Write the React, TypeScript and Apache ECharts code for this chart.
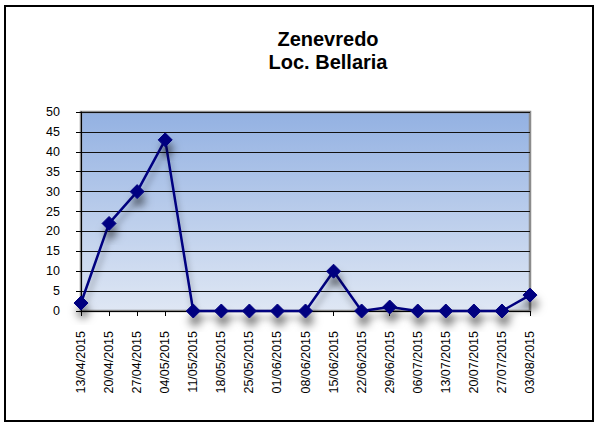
import React, { useEffect, useRef } from "react";
import * as echarts from "echarts";

const titleLines = ["Zenevredo", "Loc. Bellaria"];
const categories = [
  "13/04/2015", "20/04/2015", "27/04/2015", "04/05/2015", "11/05/2015",
  "18/05/2015", "25/05/2015", "01/06/2015", "08/06/2015", "15/06/2015",
  "22/06/2015", "29/06/2015", "06/07/2015", "13/07/2015", "20/07/2015",
  "27/07/2015", "03/08/2015",
];
const values = [2, 22, 30, 43, 0, 0, 0, 0, 0, 10, 0, 1, 0, 0, 0, 0, 4];
const yMin = 0;
const yMax = 50;
const yStep = 5;

export default function App() {
  const ref = useRef<HTMLDivElement>(null);
  useEffect(() => {
    document.body.style.margin = "0";
    const chart = echarts.init(ref.current!, null, { renderer: "svg" });
    const font = "'Liberation Sans', Arial, sans-serif";
    chart.setOption({
      animation: false,
      backgroundColor: "#ffffff",
      graphic: [
        {
          type: "rect",
          shape: { x: 5, y: 6, width: 588, height: 415 },
          style: { fill: "none", stroke: "#000", lineWidth: 2 },
          z: 0,
        },
        {
          type: "text",
          x: 328,
          y: 39,
          style: {
            text: titleLines[0],
            font: `bold 20px ${font}`,
            fill: "#000",
            textAlign: "center",
            textVerticalAlign: "middle",
          },
        },
        {
          type: "text",
          x: 328,
          y: 62,
          style: {
            text: titleLines[1],
            font: `bold 20px ${font}`,
            fill: "#000",
            textAlign: "center",
            textVerticalAlign: "middle",
          },
        },
      ],
      grid: {
        left: 81,
        right: 68,
        top: 112,
        bottom: 115,
        show: true,
        borderColor: "#8c8c8c",
        borderWidth: 2.5,
        backgroundColor: new echarts.graphic.LinearGradient(0, 0, 0, 1, [
          { offset: 0, color: "#93b1e2" },
          { offset: 1, color: "#dfe7f4" },
        ]),
      },
      xAxis: {
        type: "category",
        data: categories,
        boundaryGap: false,
        axisLine: { show: true, lineStyle: { color: "#000", width: 1 } },
        axisTick: { show: true, length: 5, lineStyle: { color: "#000" } },
        axisLabel: {
          rotate: 90,
          margin: 20,
          fontSize: 12.5,
          fontFamily: font,
          color: "#000",
        },
        splitLine: { show: false },
      },
      yAxis: {
        type: "value",
        min: yMin,
        max: yMax,
        interval: yStep,
        axisLine: { show: true, lineStyle: { color: "#000", width: 1 } },
        axisTick: { show: true, length: 5, lineStyle: { color: "#000" } },
        axisLabel: {
          margin: 21,
          fontSize: 12.5,
          fontFamily: font,
          color: "#000",
        },
        splitLine: { show: true, lineStyle: { color: "#111", width: 1.2 } },
      },
      series: [
        {
          type: "line",
          data: values,
          symbol: "diamond",
          symbolSize: 14,
          lineStyle: {
            color: "#000080",
            width: 2.5,
            shadowColor: "rgba(0,0,0,0.35)",
            shadowBlur: 6,
            shadowOffsetX: 2,
            shadowOffsetY: 7,
          },
          itemStyle: {
            color: "#000080",
            borderColor: "#000080",
            shadowColor: "rgba(0,0,0,0.5)",
            shadowBlur: 8,
            shadowOffsetX: 2,
            shadowOffsetY: 9,
          },
          clip: false,
          z: 5,
        },
      ],
    });
    return () => chart.dispose();
  }, []);
  return <div ref={ref} style={{ width: 598, height: 426 }} />;
}
